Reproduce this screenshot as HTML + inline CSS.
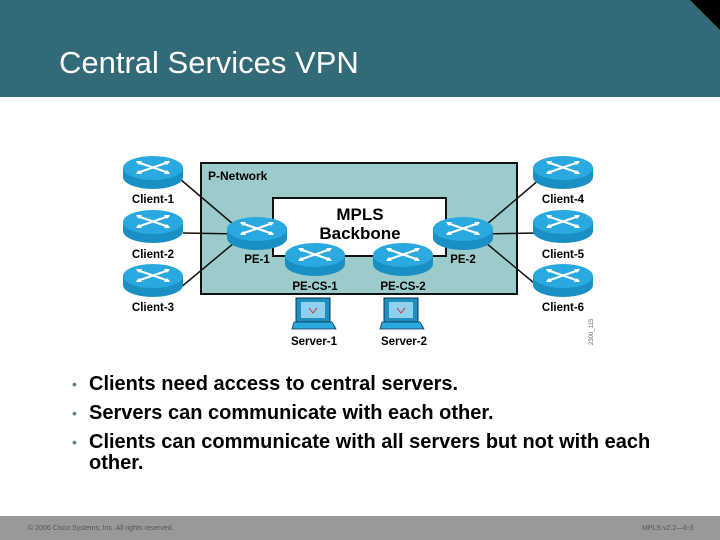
<!DOCTYPE html>
<html><head><meta charset="utf-8"><style>
body{margin:0;width:720px;height:540px;overflow:hidden;background:#fff;font-family:"Liberation Sans",Arial,sans-serif;position:relative}
.hdr{position:absolute;left:0;top:0;width:720px;height:97px;background:#336a77}
.title{position:absolute;left:59px;top:45px;color:#fff;font-size:31px;line-height:36px}
.tri{position:absolute;right:0;top:0;width:0;height:0;border-top:30px solid #000;border-left:30px solid transparent}
.b{position:absolute;left:89px;font-size:20px;font-weight:bold;color:#000;line-height:21px}
.dot{position:absolute;left:72px;font-size:14px;color:#5a7f88}
.ftr{position:absolute;left:0;top:516px;width:720px;height:24px;background:#999}
.ftr span{position:absolute;top:9px;font-size:7px;color:#555}
</style></head><body>
<div class="hdr"><div class="title">Central Services VPN</div><div class="tri"></div></div>
<svg width="720" height="540" style="position:absolute;left:0;top:0" font-family="Liberation Sans,Arial,sans-serif" font-weight="bold" font-size="11.5">
<defs>
<g id="r">
<path d="M-30,0 L-30,9 A30,12 0 0 0 30,9 L30,0 Z" fill="#1a8fc4"/>
<ellipse cx="0" cy="0" rx="30" ry="12" fill="#2aa9e0"/>
<g stroke="#fff" stroke-width="2.2" fill="none"><path d="M-16,-6 L16,5 M-16,5 L16,-6"/></g>
<g fill="#fff"><path d="M-17,-7 l6,0 l-3,4 z M17,-7 l-6,0 l3,4 z M-17,6 l6,0 l-3,-4 z M17,6 l-6,0 l3,-4 z"/></g>
</g>
<g id="s">
<rect x="-18" y="0" width="34" height="24" fill="#1f8fc0" stroke="#135" stroke-width="1"/>
<rect x="-13" y="4" width="24" height="16" fill="#8fd0ee"/>
<path d="M-20,24 L18,24 L22,31 L-22,31 Z" fill="#2aa9e0" stroke="#135" stroke-width="0.8"/>
<path d="M-5,10 l4,5 l4,-5" stroke="#c33" fill="none"/>
</g>
</defs>
<rect x="201" y="163" width="316" height="131" fill="#9ccbcb" stroke="#111" stroke-width="2"/>
<rect x="273" y="198" width="173" height="58" fill="#fff" stroke="#111" stroke-width="2"/>
<g stroke="#111" stroke-width="1.5">
<line x1="180" y1="179" x2="240" y2="230"/><line x1="183" y1="233" x2="240" y2="234"/><line x1="180" y1="288" x2="240" y2="238"/>
<line x1="540" y1="179" x2="480" y2="230"/><line x1="537" y1="233" x2="480" y2="234"/><line x1="540" y1="288" x2="480" y2="238"/>
</g>
<text x="208" y="180" font-size="12">P-Network</text>
<text x="360" y="220" font-size="17" text-anchor="middle">MPLS</text>
<text x="360" y="239" font-size="17" text-anchor="middle">Backbone</text>
<use href="#r" x="153" y="168"/><use href="#r" x="153" y="222"/><use href="#r" x="153" y="276"/>
<use href="#r" x="563" y="168"/><use href="#r" x="563" y="222"/><use href="#r" x="563" y="276"/>
<use href="#r" x="257" y="229"/><use href="#r" x="463" y="229"/>
<use href="#r" x="315" y="255"/><use href="#r" x="403" y="255"/>
<text x="153" y="203" text-anchor="middle">Client-1</text>
<text x="153" y="258" text-anchor="middle">Client-2</text>
<text x="153" y="311" text-anchor="middle">Client-3</text>
<text x="563" y="203" text-anchor="middle">Client-4</text>
<text x="563" y="258" text-anchor="middle">Client-5</text>
<text x="563" y="311" text-anchor="middle">Client-6</text>
<text x="257" y="263" text-anchor="middle">PE-1</text>
<text x="463" y="263" text-anchor="middle">PE-2</text>
<text x="315" y="290" text-anchor="middle">PE-CS-1</text>
<text x="403" y="290" text-anchor="middle">PE-CS-2</text>
<use href="#s" x="314" y="298"/><use href="#s" x="402" y="298"/>
<text x="314" y="345" text-anchor="middle">Server-1</text>
<text x="404" y="345" text-anchor="middle">Server-2</text>
<text x="0" y="0" font-size="6" font-weight="normal" fill="#666" transform="translate(593,345) rotate(-90)">2300_115</text>
</svg>
<div class="dot" style="top:376px">•</div><div class="b" style="top:374px">Clients need access to central servers.</div>
<div class="dot" style="top:405px">•</div><div class="b" style="top:403px">Servers can communicate with each other.</div>
<div class="dot" style="top:434px">•</div><div class="b" style="top:432px">Clients can communicate with all servers but not with each<br>other.</div>
<div class="ftr"><span style="left:28px">© 2006 Cisco Systems, Inc. All rights reserved.</span><span style="left:642px">MPLS v2.2—6-3</span></div>
</body></html>
